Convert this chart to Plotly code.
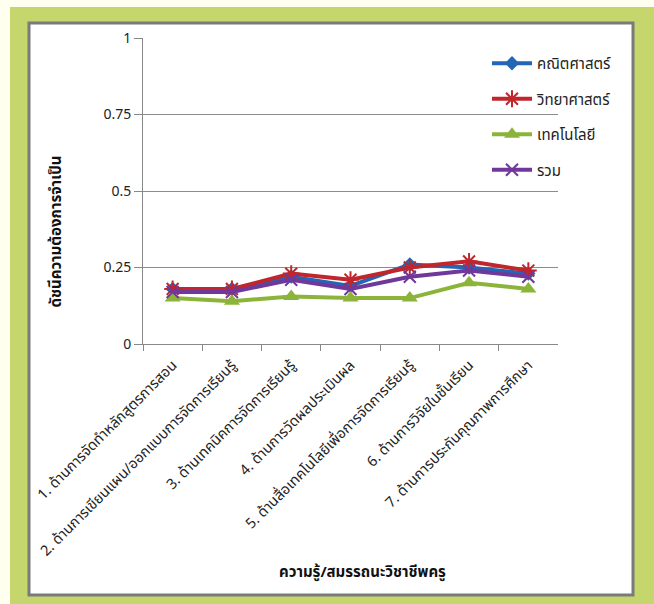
import plotly.graph_objects as go

categories = [
    "1. ด้านการจัดทำหลักสูตรการสอน",
    "2. ด้านการเขียนแผน/ออกแบบการจัดการเรียนรู้",
    "3. ด้านเทคนิคการจัดการเรียนรู้",
    "4. ด้านการวัดผลประเมินผล",
    "5. ด้านสื่อเทคโนโลยีเพื่อการจัดการเรียนรู้",
    "6. ด้านการวิจัยในชั้นเรียน",
    "7. ด้านการประกันคุณภาพการศึกษา",
]
math_vals = [0.18, 0.18, 0.22, 0.19, 0.26, 0.25, 0.23]
sci_vals = [0.18, 0.18, 0.23, 0.21, 0.25, 0.27, 0.24]
tech_vals = [0.15, 0.14, 0.155, 0.15, 0.15, 0.20, 0.18]
total_vals = [0.17, 0.17, 0.21, 0.18, 0.22, 0.24, 0.22]
series_names = ["คณิตศาสตร์", "วิทยาศาสตร์", "เทคโนโลยี", "รวม"]
y_ticks = [0, 0.25, 0.5, 0.75, 1]
x_title = "ความรู้/สมรรถนะวิชาชีพครู"
y_title = "ดัชนีความต้องการจำเป็น"

W, H = 654, 604
FONT = "Tahoma, 'Noto Sans Thai', 'Noto Sans', sans-serif"

def px(x):
    return x / W

def py(y):
    return 1 - y / H

fig = go.Figure()
styles = [
    (math_vals, "#2565b5", dict(symbol="diamond", size=11, color="#2565b5")),
    (sci_vals, "#c0262c", dict(symbol="asterisk-open", size=14, color="#c0262c",
                               line=dict(color="#c0262c", width=2))),
    (tech_vals, "#8db43a", dict(symbol="triangle-up", size=14, color="#8db43a")),
    (total_vals, "#70389a", dict(symbol="x-thin-open", size=12, color="#70389a",
                                 line=dict(color="#70389a", width=2))),
]
for i, (vals, col, mk) in enumerate(styles):
    fig.add_trace(go.Scatter(
        x=categories, y=vals, name=series_names[i], mode="lines+markers",
        line=dict(color=col, width=4), marker=mk, legendgroup=str(i),
    ))

shapes = [
    dict(type="rect", xref="paper", yref="paper", x0=px(10), x1=px(W + 2),
         y0=py(H + 2), y1=py(7), fillcolor="#c5d66c", line=dict(width=0), layer="below"),
    dict(type="rect", xref="paper", yref="paper", x0=px(29), x1=px(633),
         y0=py(595), y1=py(23), fillcolor="white",
         line=dict(color="#7a7a7a", width=3), layer="below"),
]

fig.update_layout(
    width=W, height=H,
    autosize=False,
    margin=dict(l=0, r=0, t=0, b=0, autoexpand=False),
    paper_bgcolor="#fffff0",
    plot_bgcolor="rgba(0,0,0,0)",
    font=dict(family=FONT, color="#222222"),
    shapes=shapes,
    showlegend=True,
    legend=dict(x=px(487), y=py(47), xanchor="left", yanchor="top",
                bgcolor="rgba(0,0,0,0)", font=dict(size=15, color="#222"),
                traceorder="grouped", tracegroupgap=13, itemwidth=40),
    xaxis=dict(domain=[px(143), px(558)], type="category", automargin=False,
               tickangle=-45, tickson="boundaries", ticks="outside", ticklen=6,
               tickcolor="#888", showline=True, linecolor="#888", linewidth=1,
               showgrid=False, tickfont=dict(size=14.5, color="#222"),
               ticklabelstandoff=6, range=[-0.5, 6.5]),
    yaxis=dict(domain=[py(344), py(38)], range=[0, 1], tickvals=y_ticks,
               automargin=False,
               ticks="outside", ticklen=8, tickcolor="#888",
               showline=True, linecolor="#888", linewidth=1,
               showgrid=True, gridcolor="#8c8c8c", gridwidth=1,
               zeroline=False, tickfont=dict(size=14, color="#222")),
    annotations=[
        dict(text="<b>" + x_title + "</b>", xref="paper", yref="paper",
             x=px(362), y=py(586), showarrow=False, font=dict(size=15, color="#111")),
        dict(text="<b>" + y_title + "</b>", xref="paper", yref="paper",
             x=px(43), y=py(232), showarrow=False, textangle=-90,
             font=dict(size=15, color="#111")),
    ],
)

fig.write_html("out.html", config={"responsive": False, "displayModeBar": False},
               post_script="document.body.style.margin='0';document.body.style.padding='0';")
